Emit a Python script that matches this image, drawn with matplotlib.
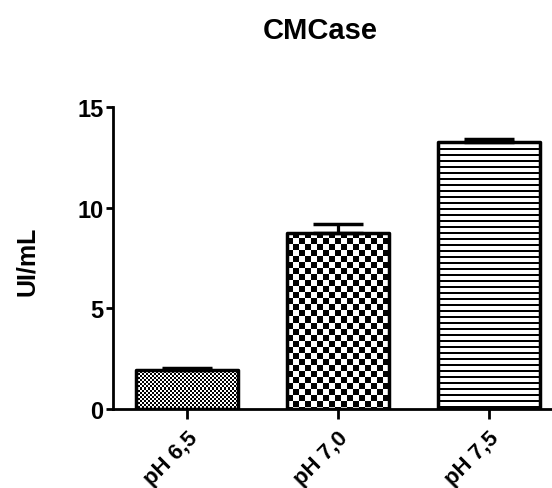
import numpy as np
import matplotlib
matplotlib.use("Agg")
import matplotlib.pyplot as plt

plt.rcParams['font.family'] = ['Liberation Sans', 'DejaVu Sans']
plt.rcParams['font.weight'] = 'bold'

# CMCase activity per pH (mean and upper error)
labels = ['pH 6,5', 'pH 7,0', 'pH 7,5']
means = [1.95, 8.75, 13.25]
errors = [0.1, 0.42, 0.15]
patterns = ['fine', 'checker', 'lines']


def fill_pattern(kind, h, w):
    yy, xx = np.mgrid[0:h, 0:w]
    if kind == 'fine':
        return ((xx // 2 + yy // 2) % 2).astype(float)
    if kind == 'checker':
        return ((xx // 6 + yy // 6) % 2).astype(float)
    return (yy % 6 < 2).astype(float)


fig = plt.figure(figsize=(5.52, 4.89), dpi=100)
ax = fig.add_axes([113 / 552, 79 / 489, 439 / 552, 302 / 489])

x = np.arange(len(labels))
width = 0.675
ax.set_xlim(-0.49, 2.42)
ax.set_ylim(0, 15)

bars = ax.bar(x, means, width=width, facecolor='none', edgecolor='black',
              linewidth=2.5, zorder=3)
for bar, kind in zip(bars, patterns):
    bar.set_joinstyle('round')
    x0, x1 = bar.get_x(), bar.get_x() + bar.get_width()
    h = bar.get_height()
    p0 = ax.transData.transform((x0, 0))
    p1 = ax.transData.transform((x1, h))
    w_px = max(int(round(p1[0] - p0[0])), 1)
    h_px = max(int(round(p1[1] - p0[1])), 1)
    img = ax.imshow(fill_pattern(kind, h_px, w_px), extent=(x0, x1, 0, h),
                    cmap='gray_r', vmin=0, vmax=1, interpolation='nearest',
                    aspect='auto', zorder=2)
    img.set_clip_path(bar)

ax.errorbar(x, means, yerr=[np.zeros(len(means)), errors], fmt='none',
            ecolor='black', elinewidth=2.3, capsize=18, capthick=2.5, zorder=4)

ax.set_xlim(-0.49, 2.42)
ax.set_ylim(0, 15)

for side in ['top', 'right']:
    ax.spines[side].set_visible(False)
for side in ['left', 'bottom']:
    ax.spines[side].set_linewidth(2)

ax.set_yticks([0, 5, 10, 15])
ax.set_xticks(x)
ax.set_xticklabels(labels, rotation=45, ha='right', rotation_mode='anchor')
ax.tick_params(axis='y', length=5, width=2, labelsize=17, pad=2)
ax.tick_params(axis='x', length=7, width=2, labelsize=16, pad=6)
for lab in ax.get_xticklabels() + ax.get_yticklabels():
    lab.set_fontweight('bold')

fig.text(27 / 552, 1 - 261 / 489, 'UI/mL', rotation=90, ha='center',
         va='center', fontsize=18, fontweight='bold')
fig.text(320 / 552, 1 - 31 / 489, 'CMCase', ha='center', va='center',
         fontsize=21, fontweight='bold')

fig.savefig('out.png', dpi=100)
